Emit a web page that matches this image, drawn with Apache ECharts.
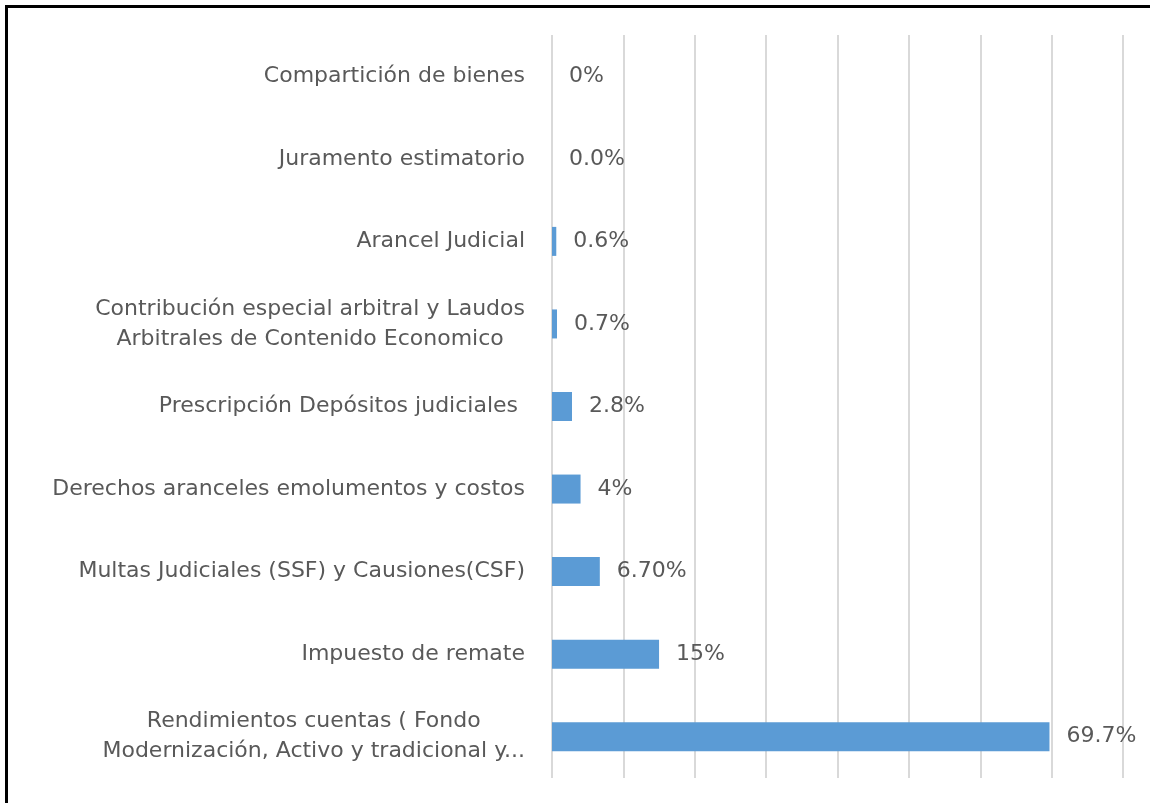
<!DOCTYPE html>
<html>
<head>
<meta charset="utf-8">
<script src="https://cdn.jsdelivr.net/npm/echarts@6/dist/echarts.min.js"></script>
<style>
  html, body { margin: 0; padding: 0; background: #fff; }
  #chart { width: 1150px; height: 803px; }
</style>
</head>
<body>
<div id="chart"></div>
<script>
// categories bottom -> top (as the y axis draws them)
const categories = [
  'Rendimientos cuentas ( Fondo\nModernización, Activo y tradicional y...',
  'Impuesto de remate',
  'Multas Judiciales (SSF) y Causiones(CSF)',
  'Derechos aranceles emolumentos y costos',
  'Prescripción Depósitos judiciales ',
  'Contribución especial arbitral y Laudos\nArbitrales de Contenido Economico',
  'Arancel Judicial',
  'Juramento estimatorio',
  'Compartición de bienes'
];
const values = [69.7, 15, 6.7, 4, 2.8, 0.7, 0.6, 0.0, 0];
const valueLabels = ['69.7%', '15%', '6.70%', '4%', '2.8%', '0.7%', '0.6%', '0.0%', '0%'];

const FONT = 'DejaVu Sans';
const chart = echarts.init(document.getElementById('chart'));

chart.setOption({
  animation: false,
  backgroundColor: '#fff',
  textStyle: { fontFamily: FONT },
  grid: { left: 552, right: 27, top: 35, bottom: 25, containLabel: false },
  xAxis: {
    type: 'value',
    min: 0,
    max: 80,
    interval: 10,
    axisLabel: { show: false },
    axisLine: { show: false },
    axisTick: { show: false },
    splitLine: { show: true, lineStyle: { color: '#d9d9d9', width: 2 } }
  },
  yAxis: {
    type: 'category',
    data: categories,
    axisLine: { show: false },
    axisTick: { show: false },
    axisLabel: {
      margin: 27,
      color: '#595959',
      fontFamily: FONT,
      fontSize: 22,
      formatter: function (v) {
        return v.split('\n').map(function (s) { return '{c|' + s + '}'; }).join('\n');
      },
      rich: {
        c: { align: 'center', color: '#595959', fontFamily: FONT, fontSize: 22, lineHeight: 30 }
      }
    }
  },
  series: [{
    type: 'bar',
    data: values,
    barWidth: 29,
    itemStyle: { color: '#5b9bd5' },
    label: {
      show: true,
      position: 'right',
      distance: 17,
      color: '#595959',
      fontFamily: FONT,
      fontSize: 22,
      formatter: function (p) { return valueLabels[p.dataIndex]; }
    }
  }],
  graphic: [
    { type: 'line', shape: { x1: 6.5, y1: 5, x2: 6.5, y2: 803 }, style: { stroke: '#000', lineWidth: 3 } },
    { type: 'line', shape: { x1: 5, y1: 6.5, x2: 1150, y2: 6.5 }, style: { stroke: '#000', lineWidth: 3 } }
  ]
});
</script>
</body>
</html>
